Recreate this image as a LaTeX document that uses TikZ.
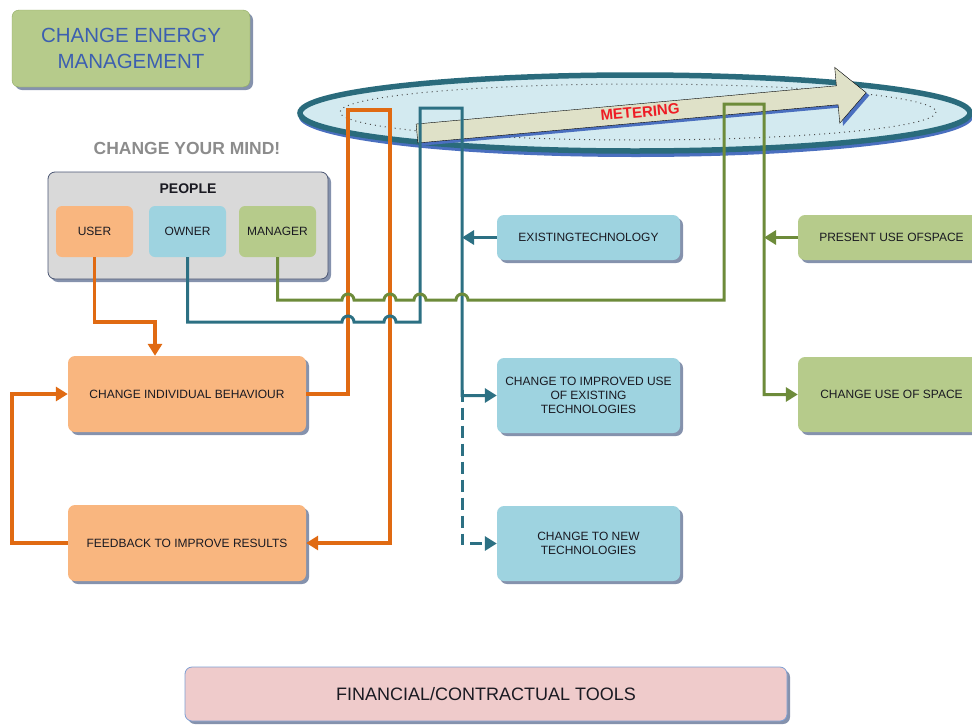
\documentclass[tikz,border=0pt]{standalone}
\usepackage{fontspec}
\setmainfont{Liberation Sans}
\usetikzlibrary{arrows.meta,shadows,positioning}

\definecolor{orangebox}{HTML}{F9B67F}
\definecolor{bluebox}{HTML}{9ED3E0}
\definecolor{greenbox}{HTML}{B6CB8B}
\definecolor{greenedge}{HTML}{8FAA62}
\definecolor{graybox}{HTML}{D9D9D9}
\definecolor{grayedge}{HTML}{4B5673}
\definecolor{pinkbox}{HTML}{EFCBCB}
\definecolor{pinkedge}{HTML}{7E9FD3}
\definecolor{shadowc}{HTML}{8592AD}
\definecolor{orangeline}{HTML}{E06A12}
\definecolor{tealline}{HTML}{2C7083}
\definecolor{greenline}{HTML}{6D8B3A}
\definecolor{titleblue}{HTML}{3C5FB0}
\definecolor{mindgray}{HTML}{8C8C8C}
\definecolor{labeltext}{HTML}{1A1A22}
\definecolor{ringfill}{HTML}{D3EAF0}
\definecolor{ringedge}{HTML}{2A6B7C}
\definecolor{ringshadow}{HTML}{4A6FBF}
\definecolor{meterfill}{HTML}{DFE1C8}
\definecolor{meterred}{HTML}{EE1C24}

\tikzset{
    box/.style={rounded corners=7pt, align=center, inner sep=2pt,
        text=labeltext, font=\fontsize{12}{14}\selectfont,
        drop shadow={shadow xshift=3pt, shadow yshift=-3pt, fill=shadowc, opacity=1}},
    obox/.style={box, fill=orangebox, minimum width=238pt, minimum height=76pt},
    bbox/.style={box, fill=bluebox, minimum width=183pt},
    gbox/.style={box, fill=greenbox, minimum width=187pt},
    pbox/.style={rounded corners=6pt, minimum width=77pt, minimum height=51pt,
        text=labeltext, font=\fontsize{12}{14}\selectfont},
    link/.style={line width=3pt, -{Triangle[length=12pt,width=14pt]}},
    oline/.style={link, orangeline, line width=3.5pt},
    tline/.style={link, tealline},
    gline/.style={link, greenline}
}

\begin{document}
\begin{tikzpicture}[x=1pt, y=-1pt]
    \useasboundingbox (0,0) rectangle (972,726);

    % Title box
    \node[box, fill=greenbox, draw=greenedge, minimum width=238pt, minimum height=77pt,
        text=titleblue, font=\fontsize{20.5}{26}\selectfont] (cem) at (131,48.5)
        {CHANGE ENERGY\\MANAGEMENT};
    \node[mindgray, font=\bfseries\fontsize{17.5}{20}\selectfont] (mind) at (187,148)
        {CHANGE YOUR MIND!};

    % People group
    \node[box, fill=graybox, draw=grayedge, thick, minimum width=280pt, minimum height=107pt]
        (people) at (188,225.5) {};
    \node[labeltext, font=\bfseries\fontsize{14}{16}\selectfont] (peopletitle) at (188,189) {PEOPLE};
    \node[pbox, fill=orangebox] (user) at (94.5,231.5) {USER};
    \node[pbox, fill=bluebox] (owner) at (187.5,231.5) {OWNER};
    \node[pbox, fill=greenbox] (manager) at (277.5,231.5) {MANAGER};

    % Behaviour loop
    \node[obox] (cib) at (187,394) {CHANGE INDIVIDUAL BEHAVIOUR};
    \node[obox] (feed) at (187,543) {FEEDBACK TO IMPROVE RESULTS};

    % Technology column
    \node[bbox, minimum height=45pt] (ext) at (588.5,237.5) {EXISTINGTECHNOLOGY};
    \node[bbox, minimum height=75pt] (ciuet) at (588.5,395.5)
        {CHANGE TO IMPROVED USE\\OF EXISTING\\TECHNOLOGIES};
    \node[bbox, minimum height=75pt] (ctnt) at (588.5,543.5)
        {CHANGE TO NEW\\TECHNOLOGIES};

    % Space column (runs past the right edge)
    \node[gbox, minimum height=45pt] (puos) at (891.5,237.5) {PRESENT USE OFSPACE};
    \node[gbox, minimum height=75pt] (cuos) at (891.5,394.5) {CHANGE USE OF SPACE};

    % Tools
    \node[box, fill=pinkbox, draw=pinkedge, thick, minimum width=602pt, minimum height=54pt,
        font=\fontsize{18}{20}\selectfont] (tools) at (486,694) {FINANCIAL/CONTRACTUAL TOOLS};

    % Metering ring
    \fill[ringshadow] (636,117) ellipse [x radius=337, y radius=40];
    \draw[ringedge, line width=5.5pt, fill=ringfill] (635,113) ellipse [x radius=335, y radius=38];
    \draw[gray!60!black, line width=1pt, dash pattern=on 1pt off 4pt] (638,112)
        ellipse [x radius=298, y radius=28];

    % Metering arrow, tilted along its axis
    \begin{scope}[shift={(417,133.5)}, rotate=5.2]
        \fill[ringshadow] (3,-6.5) -- (425,-6.5) -- (425,-25) -- (454,3) -- (425,31)
            -- (425,12.5) -- (3,12.5) -- cycle;
        \draw[black, thin, fill=meterfill] (0,-9.5) -- (422,-9.5) -- (422,-28) -- (451,0)
            -- (422,28) -- (422,9.5) -- (0,9.5) -- cycle;
        \node[meterred, transform shape, font=\bfseries\fontsize{15}{16}\selectfont]
            (meter) at (224,-1) {METERING};
    \end{scope}

    % Waypoints inside the ring
    \coordinate (otop1) at (348,110);
    \coordinate (otop2) at (390,110);
    \coordinate (ttop1) at (420,108);
    \coordinate (ttop2) at (462,108);
    \coordinate (gtop1) at (724,104);
    \coordinate (gtop2) at (764,104);

    % Orange connectors
    \draw[oline] (user.south) -- ++(0,65) -| ([xshift=-32pt]cib.north);
    \draw[oline] (cib.east) -| (otop1) -- (otop2) |- (feed.east);
    \draw[oline] (feed.west) -- ++(-56,0) |- (cib.west);

    % Teal connectors
    \draw[tline] (owner.south) |- (342,322)
        \foreach \x in {348,390} { -- (\x-6,322) arc[start angle=180, end angle=360, radius=6] }
        -- (ttop1 |- 0,322) -- (ttop1) -- (ttop2) |- (ciuet.west);
    \draw[tline, dash pattern=on 12pt off 6pt] ([yshift=6pt]ciuet.west -| ttop2) |- (ctnt.west);
    \draw[tline] (ext.west) -- (ext.west -| ttop2);

    % Green connectors
    \draw[gline] (manager.south) |- (342,300)
        \foreach \x in {348,390,420,462} { -- (\x-6,300) arc[start angle=180, end angle=360, radius=6] }
        -- (gtop1 |- 0,300) -- (gtop1) -- (gtop2) |- (cuos.west);
    \draw[gline] (puos.west) -- (puos.west -| gtop2);
\end{tikzpicture}
\end{document}
